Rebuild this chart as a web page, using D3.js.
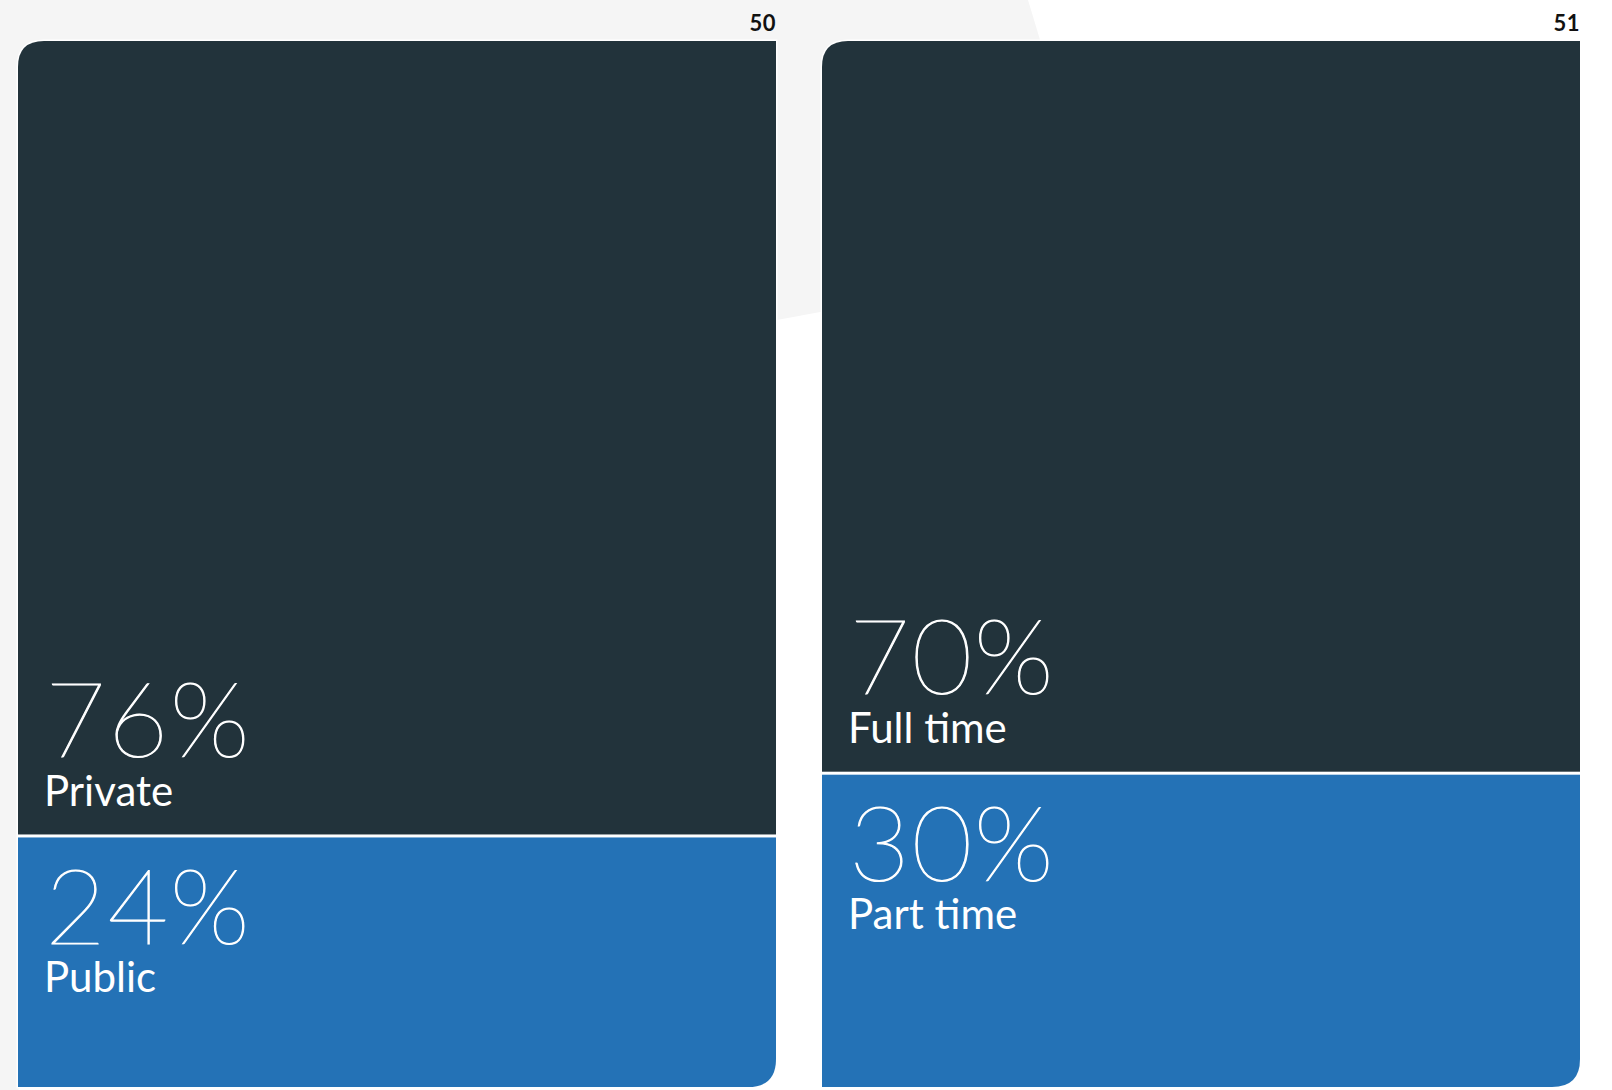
<!DOCTYPE html>
<html>
<head>
<meta charset="utf-8">
<script src="https://cdn.jsdelivr.net/npm/d3@7"></script>
<style>
  html, body { margin: 0; padding: 0; background: #ffffff; }
  svg { display: block; }
</style>
</head>
<body>
<svg id="chart" width="1612" height="1090"></svg>
<script>
// ---- Data ----
const panelTitles = ["50", "51"];
const leftCategories = ["Private", "Public"];
const leftValues = [76, 24];
const rightCategories = ["Full time", "Part time"];
const rightValues = [70, 30];
const segmentColors = ["#22333b", "#2472b6"];

const svg = d3.select("#chart");

// Background gray shape (page decoration)
svg.append("polygon")
  .attr("points", [[0,0],[1028,0],[1106,259],[777,320],[18,1090],[0,1090]].map(p => p.join(",")).join(" "))
  .attr("fill", "#f5f5f5");

const panels = [
  { title: panelTitles[0], cats: leftCategories, vals: leftValues, x0: 18, x1: 776 },
  { title: panelTitles[1], cats: rightCategories, vals: rightValues, x0: 822, x1: 1580 }
];
const panelTop = 41, panelBottom = 1087;
const rTL = 26, rBR = 28;

function panelPath(x0, x1, y0, y1) {
  return `M${x0},${y0 + rTL} Q${x0},${y0} ${x0 + rTL},${y0} L${x1},${y0} L${x1},${y1 - rBR} Q${x1},${y1} ${x1 - rBR},${y1} L${x0},${y1} Z`;
}

const defs = svg.append("defs");

panels.forEach((p, i) => {
  const y = d3.scaleLinear().domain([0, 100]).range([panelTop, panelBottom]);
  const stacked = [];
  let acc = 0;
  p.vals.forEach((v, j) => { stacked.push({ cat: p.cats[j], val: v, start: acc, end: acc + v, color: segmentColors[j] }); acc += v; });

  const clipId = "clip" + i;
  defs.append("clipPath").attr("id", clipId).append("path").attr("d", panelPath(p.x0, p.x1, panelTop, panelBottom));

  // white outline
  svg.append("path").attr("d", panelPath(p.x0, p.x1, panelTop, panelBottom))
    .attr("fill", "#ffffff").attr("stroke", "#ffffff").attr("stroke-width", 3);

  const g = svg.append("g").attr("clip-path", `url(#${clipId})`);
  g.selectAll("rect").data(stacked).join("rect")
    .attr("x", p.x0)
    .attr("width", p.x1 - p.x0)
    .attr("y", (d, j) => y(d.start) + (j > 0 ? 1.5 : 0))
    .attr("height", (d, j) => y(d.end) - y(d.start) - (j > 0 ? 1.5 : 0) - (j < stacked.length - 1 ? 1.5 : 0))
    .attr("fill", d => d.color);

  const tx = p.x0 + 27;
  stacked.forEach((d, j) => {
    let pctBase, labBase;
    if (j === 0) { pctBase = y(d.end) - 79; labBase = y(d.end) - 30; }
    else { pctBase = y(d.start) + 108; labBase = y(d.start) + 156; }
    svg.append("text").attr("x", tx).attr("y", pctBase)
      .attr("fill", "#ffffff")
      .attr("stroke", "#ffffff").attr("stroke-width", 1.1)
      .style("font-family", "Lato").style("font-weight", 100).style("font-size", "105px")
      .style("letter-spacing", "1.5px")
      .text(d.val + "%");
    svg.append("text").attr("x", tx - 1).attr("y", labBase)
      .attr("fill", "#ffffff")
      .style("font-family", "Lato").style("font-weight", 400).style("font-size", "42px")
      .text(d.cat);
  });

  svg.append("text").attr("x", p.x1).attr("y", 31)
    .attr("text-anchor", "end").attr("fill", "#111111")
    .style("font-family", "Lato").style("font-weight", 700).style("font-size", "22px")
    .style("letter-spacing", "0.5px")
    .text(p.title);
});
</script>
</body>
</html>
